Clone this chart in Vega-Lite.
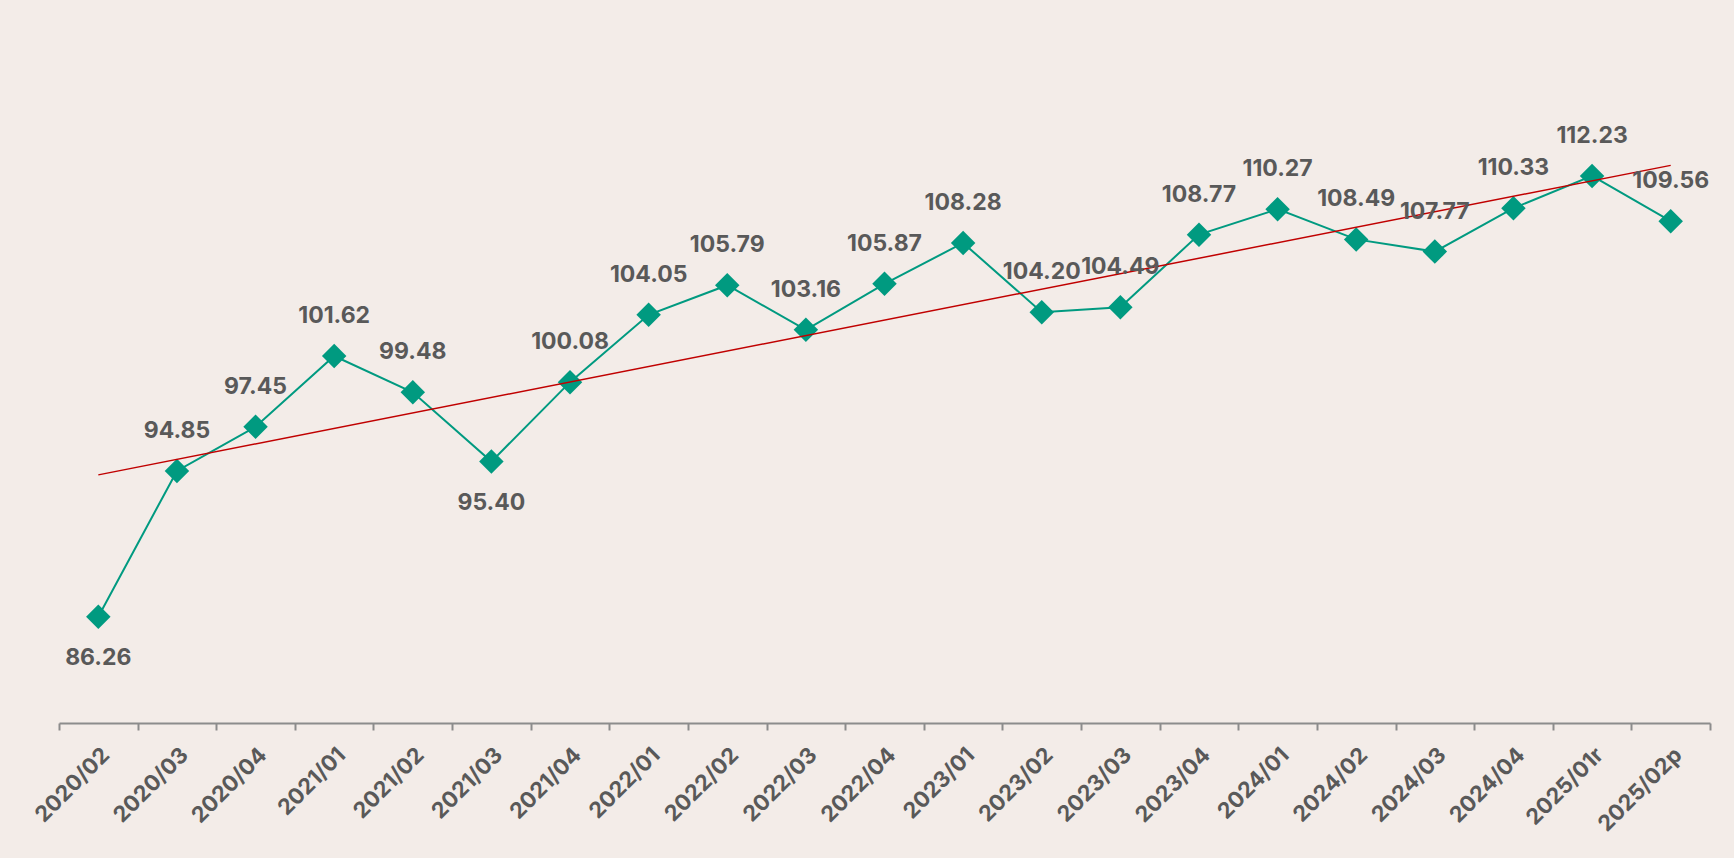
{
  "$schema": "https://vega.github.io/schema/vega-lite/v6.json",
  "autosize": {"type": "none"},
  "width": 1651,
  "height": 679,
  "padding": {"left": 59, "top": 44, "right": 24, "bottom": 135},
  "background": "#f3ece8",
  "config": {"view": {"stroke": null}, "font": "Inter"},
  "datasets": {
    "main": [
      {"i": 0, "label": "2020/02", "value": 86.26},
      {"i": 1, "label": "2020/03", "value": 94.85},
      {"i": 2, "label": "2020/04", "value": 97.45},
      {"i": 3, "label": "2021/01", "value": 101.62},
      {"i": 4, "label": "2021/02", "value": 99.48},
      {"i": 5, "label": "2021/03", "value": 95.40},
      {"i": 6, "label": "2021/04", "value": 100.08},
      {"i": 7, "label": "2022/01", "value": 104.05},
      {"i": 8, "label": "2022/02", "value": 105.79},
      {"i": 9, "label": "2022/03", "value": 103.16},
      {"i": 10, "label": "2022/04", "value": 105.87},
      {"i": 11, "label": "2023/01", "value": 108.28},
      {"i": 12, "label": "2023/02", "value": 104.20},
      {"i": 13, "label": "2023/03", "value": 104.49},
      {"i": 14, "label": "2023/04", "value": 108.77},
      {"i": 15, "label": "2024/01", "value": 110.27},
      {"i": 16, "label": "2024/02", "value": 108.49},
      {"i": 17, "label": "2024/03", "value": 107.77},
      {"i": 18, "label": "2024/04", "value": 110.33},
      {"i": 19, "label": "2025/01r", "value": 112.23},
      {"i": 20, "label": "2025/02p", "value": 109.56}
    ]
  },
  "data": {"name": "main"},
  "encoding": {
    "x": {
      "field": "label",
      "type": "ordinal",
      "sort": {"field": "i"},
      "scale": {"paddingInner": 0, "paddingOuter": 0},
      "axis": {
        "title": null,
        "labelAngle": -45,
        "labelFontSize": 22,
        "labelFontWeight": "bold",
        "labelColor": "#595959",
        "labelPadding": 14,
        "domainColor": "#8c8c8c",
        "domainWidth": 2,
        "tickColor": "#8c8c8c",
        "tickWidth": 2,
        "tickSize": 7,
        "tickBand": "extent",
        "grid": false
      }
    },
    "y": {
      "field": "value",
      "type": "quantitative",
      "scale": {"domain": [80, 120], "zero": false, "nice": false},
      "axis": null
    }
  },
  "layer": [
    {
      "mark": {"type": "line", "color": "#009a80", "strokeWidth": 2}
    },
    {
      "mark": {"type": "point", "shape": "diamond", "filled": true, "color": "#009a80", "size": 600, "opacity": 1}
    },
    {
      "transform": [
        {"regression": "value", "on": "i", "extent": [0, 20]},
        {"lookup": "i", "from": {"data": {"name": "main"}, "key": "i", "fields": ["label"]}}
      ],
      "mark": {"type": "line", "color": "#c00000", "strokeWidth": 1.5}
    },
    {
      "transform": [{"filter": "datum.label !== '2020/02' && datum.label !== '2021/03'"}],
      "mark": {"type": "text", "dy": -40, "baseline": "middle", "fontSize": 23, "fontWeight": "bold", "color": "#595959"},
      "encoding": {"text": {"field": "value", "type": "quantitative", "format": ".2f"}}
    },
    {
      "transform": [{"filter": "datum.label === '2020/02' || datum.label === '2021/03'"}],
      "mark": {"type": "text", "dy": 41, "baseline": "middle", "fontSize": 23, "fontWeight": "bold", "color": "#595959"},
      "encoding": {"text": {"field": "value", "type": "quantitative", "format": ".2f"}}
    }
  ]
}
